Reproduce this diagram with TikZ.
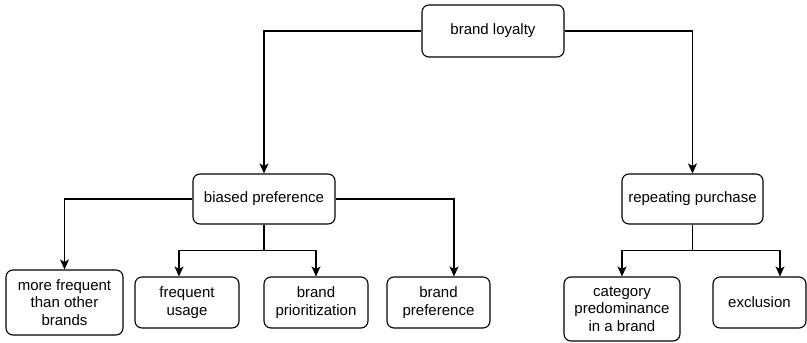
\documentclass[tikz,border=0pt]{standalone}
\usepackage{fontspec}
\setmainfont{Liberation Sans}
\usetikzlibrary{arrows.meta}

\tikzset{
  box/.style={draw=black, line width=1.1pt, rounded corners=7pt, align=center,
    inner sep=0pt, font=\fontsize{15}{17.5}\selectfont},
  link/.style={line width=1.1pt, -{Stealth[length=10pt,width=9pt,inset=2.5pt]}}
}

\begin{document}
\begin{tikzpicture}[x=1pt,y=-1pt]
    \useasboundingbox (0,0) rectangle (807,343);

    % root
    \node[box, minimum width=142pt, minimum height=52pt] (loyalty) at (493,31) {brand loyalty};

    % second level
    \node[box, minimum width=142pt, minimum height=50pt] (biased) at (264,199) {biased preference};
    \node[box, minimum width=141pt, minimum height=50pt] (repeat) at (692.5,199) {repeating purchase};

    % leaves under biased preference
    \node[box, minimum width=117pt, minimum height=65pt] (more) at (64.5,302.5) {more frequent\\than other\\brands};
    \node[box, minimum width=104pt, minimum height=51pt] (usage) at (187,302.5) {frequent\\usage};
    \node[box, minimum width=104pt, minimum height=51pt] (prio) at (316,302.5) {brand\\prioritization};
    \node[box, minimum width=103pt, minimum height=51pt] (pref) at (438.5,302.5) {brand\\preference};

    % leaves under repeating purchase
    \node[box, minimum width=116pt, minimum height=64pt] (category) at (622,309) {category\\predominance\\in a brand};
    \node[box, minimum width=93pt, minimum height=51pt] (exclusion) at (759.5,302.5) {exclusion};

    % connectors from the root
    \draw[link] (loyalty.west) -| (biased.north);
    \draw[link] (loyalty.east) -| (repeat.north);

    % connectors from biased preference
    \draw[link] (biased.west) -| (more.north);
    \draw[link] (biased.east) -| ([xshift=15.5pt]pref.north);
    \draw[link] (biased.south) -- ++(0,26) -| ([xshift=-8pt]usage.north);
    \draw[link] (biased.south) -- ++(0,26) -| (prio.north);

    % connectors from repeating purchase
    \draw[link] (repeat.south) -- ++(0,26) -| (category.north);
    \draw[link] (repeat.south) -- ++(0,26) -| ([xshift=20.5pt]exclusion.north);

\end{tikzpicture}
\end{document}
